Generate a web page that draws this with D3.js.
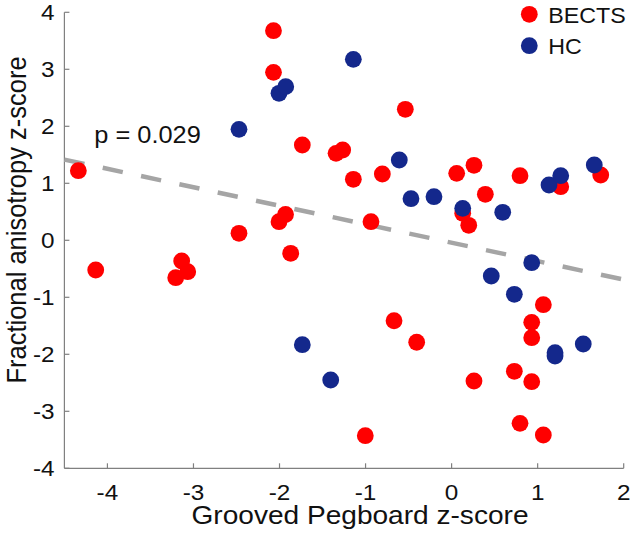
<!DOCTYPE html>
<html><head><meta charset="utf-8">
<script src="https://cdn.jsdelivr.net/npm/d3@7"></script>
<style>html,body{margin:0;padding:0;background:#fff;}svg{display:block;}</style>
</head><body>
<script>
// ---- data ----
const bectsX = [-2.07,-2.07,-1.735,-1.343,-1.266,-1.142,-4.338,-2.006,-1.93,-2.471,-1.87,-4.136,-3.137,-3.067,-3.206,-0.538,-0.805,0.059,0.26,0.392,0.129,0.199,0.795,1.268,1.733,-0.937,1.066,0.931,0.931,-0.669,-0.406,0.729,0.931,0.26,0.795,1.066,-1.003];
const bectsY = [3.677,2.947,1.672,1.526,1.584,1.07,1.221,0.326,0.453,0.123,-0.228,-0.521,-0.363,-0.551,-0.656,2.298,1.163,1.175,1.316,0.807,0.474,0.263,1.133,0.94,1.146,0.326,-1.13,-1.439,-1.709,-1.411,-1.789,-2.298,-2.481,-2.468,-3.211,-3.416,-3.428];
const hcX = [-1.142,-2.006,-1.928,-2.471,-0.608,-0.472,-0.205,0.129,0.594,1.132,1.268,1.658,0.931,0.461,0.729,1.202,1.202,1.53,-1.735,-1.405];
const hcY = [3.175,2.579,2.695,1.947,1.409,0.73,0.765,0.561,0.491,0.97,1.133,1.321,-0.393,-0.626,-0.947,-1.972,-2.03,-1.819,-1.832,-2.451];
const fitX = [-4.5, 2];
const fitY = [1.416, -0.69];
const xTicks = [-4,-3,-2,-1,0,1,2];
const yTicks = [-4,-3,-2,-1,0,1,2,3,4];
const seriesNames = ["BECTS","HC"];
const seriesColors = ["#ff0000","#14288c"];
const pLabel = "p = 0.029";
const xTitle = "Grooved Pegboard z-score";
const yTitle = "Fractional anisotropy z-score";

// ---- layout ----
const W = 633, H = 534, SX = 1.08;
const FONT = "'Liberation Sans', Arial, Helvetica, sans-serif";
const x = d3.scaleLinear().domain([-4.5, 2]).range([64.4, 623.7]);
const y = d3.scaleLinear().domain([-4, 4]).range([468.3, 12.3]);
const R = 8.4;

const svg = d3.select("body").append("svg").attr("width", W).attr("height", H);
svg.append("rect").attr("width", W).attr("height", H).attr("fill", "#fff");

function txt(px, py, s, size, anchor, extra) {
  return svg.append("text")
    .attr("transform", `translate(${px},${py}) scale(${SX},1)` + (extra || ""))
    .attr("text-anchor", anchor)
    .attr("font-family", FONT).attr("font-size", size).attr("fill", "#111")
    .text(s);
}

// axes
const axisColor = "#808080";
svg.append("line").attr("x1", x(-4.5)).attr("x2", x(2)).attr("y1", y(-4)).attr("y2", y(-4))
  .attr("stroke", axisColor).attr("stroke-width", 1.2);
svg.append("line").attr("x1", x(-4.5)).attr("x2", x(-4.5)).attr("y1", y(-4)).attr("y2", y(4))
  .attr("stroke", axisColor).attr("stroke-width", 1.2);
xTicks.forEach(t => {
  svg.append("line").attr("x1", x(t)).attr("x2", x(t)).attr("y1", y(-4)).attr("y2", y(-4) - 5)
    .attr("stroke", axisColor).attr("stroke-width", 1.2);
  txt(x(t), 500, String(t), 22.5, "middle");
});
yTicks.forEach(t => {
  svg.append("line").attr("x1", x(-4.5)).attr("x2", x(-4.5) + 5).attr("y1", y(t)).attr("y2", y(t))
    .attr("stroke", axisColor).attr("stroke-width", 1.2);
  txt(54.5, y(t) + 8, String(t), 22.5, "end");
});

// fit line
svg.append("line")
  .attr("x1", x(fitX[0])).attr("y1", y(fitY[0]))
  .attr("x2", x(fitX[1])).attr("y2", y(fitY[1]))
  .attr("stroke", "#a5a5a5").attr("stroke-width", 4.5)
  .attr("stroke-dasharray", "20.5,18.7");

// points
const series = [
  {xs: bectsX, ys: bectsY, c: seriesColors[0]},
  {xs: hcX, ys: hcY, c: seriesColors[1]}
];
series.forEach(s => {
  svg.append("g").selectAll("circle").data(s.xs.map((v, i) => [v, s.ys[i]]))
    .join("circle").attr("cx", d => x(d[0])).attr("cy", d => y(d[1])).attr("r", R).attr("fill", s.c);
});

// p label
txt(94.3, 143.3, pLabel, 23.5, "start");

// legend
seriesNames.forEach((n, i) => {
  const cy = 14.3 + i * 31.4;
  svg.append("circle").attr("cx", 529.3).attr("cy", cy).attr("r", R).attr("fill", seriesColors[i]);
  txt(548.3, cy + 8.2, n, 21.5, "start");
});

// axis titles
txt(360, 524, xTitle, 26, "middle");
txt(25.5, 220, yTitle, 25.5, "middle", " rotate(-90)");
</script>
</body></html>
